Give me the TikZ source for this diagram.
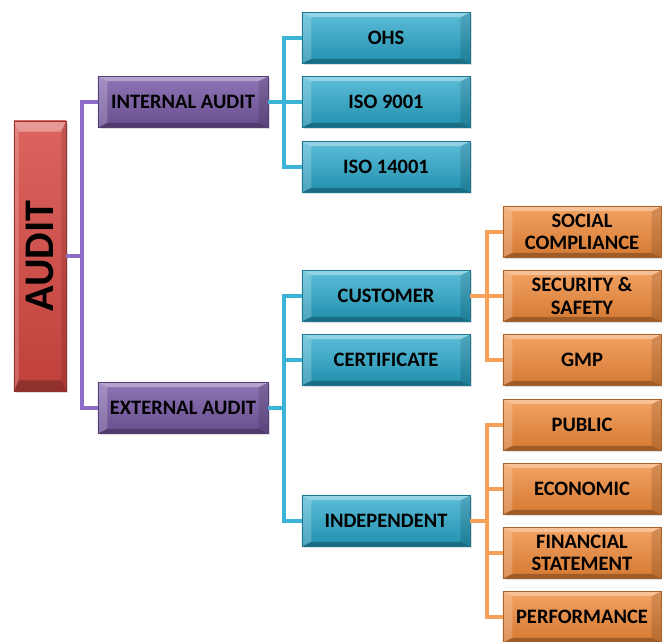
\documentclass[tikz,border=0pt]{standalone}
\usepackage{fontspec}
\setmainfont{Carlito}
\usetikzlibrary{shadows}
\definecolor{auditred}{RGB}{214,72,66}
\definecolor{auditpurple}{RGB}{122,92,168}
\definecolor{auditteal}{RGB}{38,168,204}
\definecolor{auditorange}{RGB}{240,138,58}
\definecolor{linepurple}{RGB}{140,110,200}
\definecolor{lineteal}{RGB}{60,180,215}
\definecolor{lineorange}{RGB}{246,160,90}
\newcommand\XA{40}  % root column
\newcommand\XB{183} % internal / external
\newcommand\XC{386} % schemes and kinds
\newcommand\XD{582} % sub-kinds
\newcommand\PX{82}  % purple trunk
\newcommand\TX{284} % teal trunk
\newcommand\OX{487} % orange trunk

\begin{document}
\begin{tikzpicture}
  [x=0.03cm, y=-0.03cm,
   boxbevel/.style 2 args = {
     path picture = {
       \coordinate (pNW) at (path picture bounding box.north west);
       \coordinate (pNE) at (path picture bounding box.north east);
       \coordinate (pSW) at (path picture bounding box.south west);
       \coordinate (pSE) at (path picture bounding box.south east);
       \coordinate (iNW) at ([xshift=#1, yshift=-#2]pNW);
       \coordinate (iNE) at ([xshift=-#1, yshift=-#2]pNE);
       \coordinate (iSW) at ([xshift=#1, yshift=#2]pSW);
       \coordinate (iSE) at ([xshift=-#1, yshift=#2]pSE);
       \fill[white, opacity=0.35] (pNW) -- (pNE) -- (iNE) -- (iNW) -- cycle;
       \fill[white, opacity=0.2] (pNW) -- (iNW) -- (iSW) -- (pSW) -- cycle;
       \fill[black, opacity=0.12] (pNE) -- (iNE) -- (iSE) -- (pSE) -- cycle;
       \fill[black, opacity=0.25] (pSW) -- (iSW) -- (iSE) -- (pSE) -- cycle;
     }
   },
   box/.style = {
     rectangle, inner sep=0pt, align=center, text=black,
     font=\fontsize{17.5}{19}\selectfont\bfseries,
     minimum height=1.53cm, line width=0.4pt,
     drop shadow={opacity=0.25, shadow xshift=1.5pt, shadow yshift=-1.5pt},
     boxbevel={8pt}{4pt}
   },
   rootbox/.style = {
     box, minimum width=1.56cm, minimum height=8.1cm,
     top color=auditred!85!white, bottom color=auditred!90!black,
     draw=auditred!70!black, font=\fontsize{36}{40}\selectfont\bfseries,
     boxbevel={4pt}{9pt}
   },
   groupbox/.style = {
     box, minimum width=5.1cm,
     top color=auditpurple!85!white, bottom color=auditpurple!85!black,
     draw=auditpurple!70!black
   },
   typebox/.style = {
     box, minimum width=5.04cm,
     top color=auditteal!75!white, bottom color=auditteal!85!black,
     draw=auditteal!70!black
   },
   leafbox/.style = {
     box, minimum width=4.74cm,
     top color=auditorange!80!white, bottom color=auditorange!88!black,
     draw=auditorange!70!black
   },
   wire/.style = {
     line width=2.6pt
   },
   pwire/.style = {wire, draw=linepurple},
   twire/.style = {wire, draw=lineteal},
   owire/.style = {wire, draw=lineorange}]

  \useasboundingbox (0,0) rectangle (662,642);

  % Root
  \node[rootbox] at (\XA, 256) (audit) {\rotatebox{90}{AUDIT}};

  % Internal / external
  \node[groupbox] at (\XB, 102) (intaudit) {INTERNAL AUDIT};
  \node[groupbox] at (\XB, 408) (extaudit) {EXTERNAL AUDIT};

  % Internal schemes
  \node[typebox] at (\XC, 38) (ohs) {OHS};
  \node[typebox] at (\XC, 102) (iso9) {ISO 9001};
  \node[typebox] at (\XC, 167) (iso14) {ISO 14001};

  % External kinds
  \node[typebox] at (\XC, 296) (customer) {CUSTOMER};
  \node[typebox] at (\XC, 360) (certif) {CERTIFICATE};
  \node[typebox] at (\XC, 521) (indep) {INDEPENDENT};

  % Customer audits
  \node[leafbox] at (\XD, 232) (social) {SOCIAL\\COMPLIANCE};
  \node[leafbox] at (\XD, 296) (security) {SECURITY \&\\SAFETY};
  \node[leafbox] at (\XD, 360) (gmp) {GMP};

  % Independent audits
  \node[leafbox] at (\XD, 425) (public) {PUBLIC};
  \node[leafbox] at (\XD, 489) (economic) {ECONOMIC};
  \node[leafbox] at (\XD, 553) (financial) {FINANCIAL\\STATEMENT};
  \node[leafbox] at (\XD, 617) (perform) {PERFORMANCE};

  % Trunks
  \coordinate (pbus) at (\PX, 0);
  \coordinate (tbus) at (\TX, 0);
  \coordinate (obus) at (\OX, 0);

  \draw[pwire] (audit.east) -- (audit.east -| pbus);
  \draw[pwire] (intaudit.west) -| (pbus |- audit.east) |- (extaudit.west);

  \draw[twire] (intaudit.east) -- (iso9.west);
  \draw[twire] (ohs.west) -| (tbus |- iso9.west) |- (iso14.west);

  \draw[twire] (extaudit.east) -- (extaudit.east -| tbus);
  \draw[twire] (customer.west) -| (tbus |- extaudit.east) |- (indep.west);
  \draw[twire] (certif.west) -- (certif.west -| tbus);

  \draw[owire] (customer.east) -- (security.west);
  \draw[owire] (social.west) -| (obus |- customer.east) |- (gmp.west);

  \draw[owire] (indep.east) -- (indep.east -| obus);
  \draw[owire] (public.west) -| (obus |- indep.east) |- (perform.west);
  \draw[owire] (economic.west) -- (economic.west -| obus);
  \draw[owire] (financial.west) -- (financial.west -| obus);

\end{tikzpicture}
\end{document}
